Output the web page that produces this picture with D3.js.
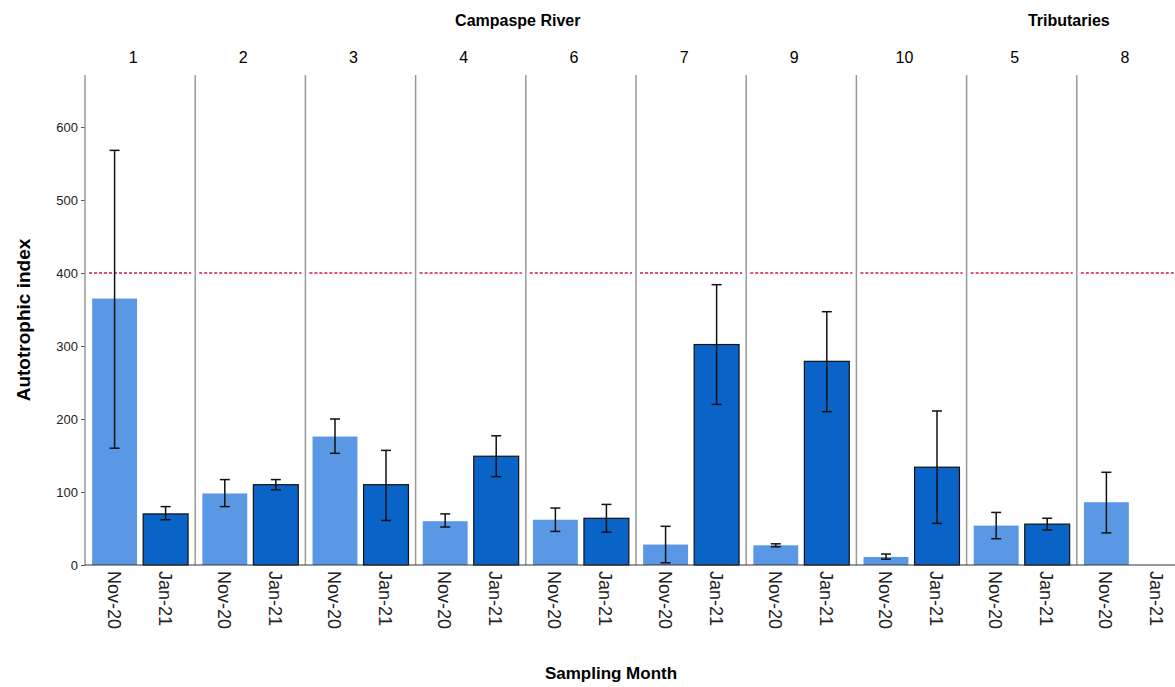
<!DOCTYPE html>
<html><head><meta charset="utf-8">
<script src="https://cdn.jsdelivr.net/npm/d3@7"></script>
<style>body{margin:0;background:#fff}text{font-family:Arial,"Liberation Sans",sans-serif}</style>
</head><body><svg width="1175" height="687"></svg>
<script>
var sites = ["1","2","3","4","6","7","9","10","5","8"];
var months = ["Nov-20","Jan-21"];
var means = [[365,70],[98,110],[176,110],[60,149],[62,64],[28,302],[27,279],[11,134],[54,56],[86,null]];
var lows  = [[160,62],[80,103],[153,61],[52,121],[46,45],[3,220],[25,210],[8,57],[36,48],[44,null]];
var highs = [[568,80],[117,117],[200,157],[70,177],[78,83],[53,384],[29,347],[15,211],[72,64],[127,null]];
var groups = [{name:"Campaspe River",from:0,to:7},{name:"Tributaries",from:8,to:9}];
var yTicks = [0,100,200,300,400,500,600];
var threshold = 400;
var colors = ["#5a98e6","#0a64c8"];

var svg = d3.select("svg");
var left = 85, plotTop = 75, bottom = 565, pw = 110.2;
var y = d3.scaleLinear().domain([0,600]).range([bottom,127]);
var px = d3.scaleBand().domain(sites).range([left,left+pw*10]);
var bx = d3.scaleBand().domain(months).range([0,pw]).paddingInner(0.12).paddingOuter(0.14);

svg.append("g").attr("transform","translate("+left+",0)")
  .call(d3.axisLeft(y).tickValues(yTicks).tickSize(4).tickSizeOuter(0))
  .call(function(g){g.select(".domain").remove();g.selectAll("line").attr("stroke","#555");
    g.selectAll("text").attr("font-size",13).attr("fill","#222");});

sites.forEach(function(s,i){
  var g = svg.append("g").attr("transform","translate("+px(s)+",0)");
  g.append("line").attr("x1",0).attr("x2",0).attr("y1",plotTop).attr("y2",bottom).attr("stroke","#999").attr("stroke-width",1.5);
  g.append("line").attr("x1",4).attr("x2",pw-4).attr("y1",y(threshold)).attr("y2",y(threshold))
    .attr("stroke","#d21e3c").attr("stroke-dasharray","3,2").attr("stroke-width",1.3);
  g.append("text").attr("x",pw/2-7).attr("y",63).attr("text-anchor","middle").attr("font-size",16).text(s);
  months.forEach(function(m,j){
    var v = means[i][j];
    var x0 = bx(m);
    g.append("text").attr("transform","translate("+(x0+bx.bandwidth()/2-7)+",571) rotate(90)")
      .attr("font-size",18).attr("fill","#222").text(m);
    if (v==null) return;
    g.append("rect").attr("x",x0).attr("width",bx.bandwidth()).attr("y",y(v)).attr("height",bottom-y(v))
      .attr("fill",colors[j]).attr("stroke",j==1?"#111":"none").attr("stroke-width",1.2);
    var cx = x0+bx.bandwidth()/2;
    var e = g.append("g").attr("stroke","#111").attr("stroke-width",1.5);
    e.append("line").attr("x1",cx).attr("x2",cx).attr("y1",y(lows[i][j])).attr("y2",y(highs[i][j]));
    [lows[i][j],highs[i][j]].forEach(function(q){
      e.append("line").attr("x1",cx-5).attr("x2",cx+5).attr("y1",y(q)).attr("y2",y(q));});
  });
});
svg.append("line").attr("x1",left).attr("x2",1175).attr("y1",bottom).attr("y2",bottom).attr("stroke","#333").attr("stroke-width",1.2);

groups.forEach(function(gr){
  var cx = (px(sites[gr.from]) + px(sites[gr.to]) + pw)/2 - 8;
  svg.append("text").attr("x",cx).attr("y",26).attr("text-anchor","middle").attr("font-size",16).attr("font-weight","bold").text(gr.name);
});
svg.append("text").attr("transform","translate(30,320) rotate(-90)").attr("text-anchor","middle")
  .attr("font-size",19).attr("font-weight","bold").text("Autotrophic index");
svg.append("text").attr("x",611).attr("y",679).attr("text-anchor","middle")
  .attr("font-size",17).attr("font-weight","bold").text("Sampling Month");
</script></body></html>
